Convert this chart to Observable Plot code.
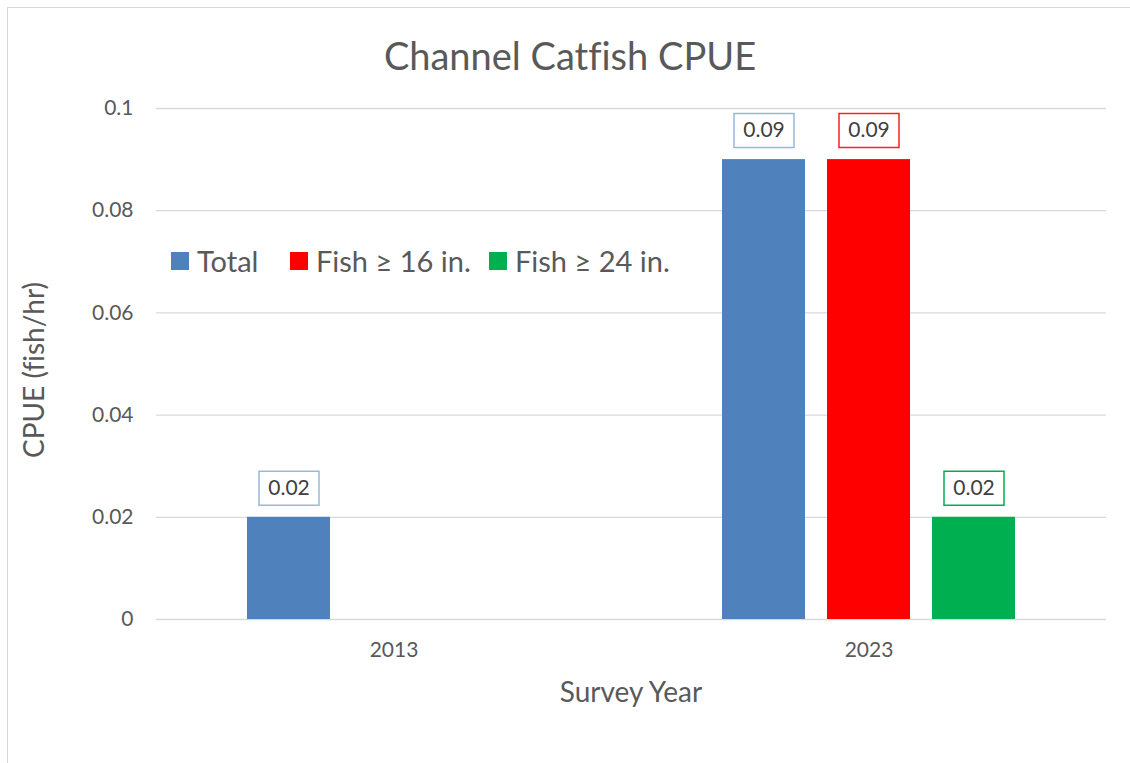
<!DOCTYPE html>
<html>
<head>
<meta charset="utf-8">
<script src="https://cdn.jsdelivr.net/npm/d3@7"></script>
<script src="https://cdn.jsdelivr.net/npm/@observablehq/plot@0.6"></script>
<style>
  html, body { margin: 0; padding: 0; background: #fff; }
  #wrap { position: relative; width: 1130px; height: 763px; overflow: hidden; font-family: Lato, "Open Sans", sans-serif; color: #595959; font-variant-ligatures: none; font-feature-settings: "liga" 0; }
  #border { position: absolute; left: 7px; top: 7px; width: 1200px; height: 900px; border-left: 1.5px solid #D9D9D9; border-top: 1.5px solid #D9D9D9; }
  #title { position: absolute; left: 0; width: 1140px; top: 32px; text-align: center; font-size: 38px; line-height: 46px; }
  #ylabel { position: absolute; left: 33px; top: 370px; transform: translate(-50%, -50%) rotate(-90deg); font-size: 28px; white-space: nowrap; }
  #xlabel { position: absolute; left: 631px; top: 691px; transform: translate(-50%, -50%); font-size: 28px; white-space: nowrap; }
  #legend { position: absolute; left: 171px; top: 243px; display: flex; align-items: center; font-size: 29px; line-height: 36px; }
  .item { display: flex; align-items: center; }
  .sw { width: 18px; height: 18px; margin-right: 8px; }
  #chart { position: absolute; left: 0; top: 0; }
</style>
</head>
<body>
<div id="wrap">
  <div id="border"></div>
  <div id="chart"></div>
  <div id="title"></div>
  <div id="ylabel"></div>
  <div id="xlabel"></div>
  <div id="legend"></div>
</div>
<script>
// ---- data ----
const years = ["2013", "2023"];
const seriesNames = ["Total", "Fish ≥ 16 in.", "Fish ≥ 24 in."];
const totalValues = [0.02, 0.09];
const fish16Values = [null, 0.09];
const fish24Values = [null, 0.02];
const yTicks = [0, 0.02, 0.04, 0.06, 0.08, 0.1];
const titleText = "Channel Catfish CPUE";
const yLabelText = "CPUE (fish/hr)";
const xLabelText = "Survey Year";

// ---- styles ----
const barColors = ["#4F81BD", "#FF0000", "#00B050"];
const boxStrokes = ["#9BB7DA", "#FF2020", "#00B050"];
const seriesOffsets = [-105, 0, 105];
const legendItemWidths = [119, 199, 200];

const seriesValues = [totalValues, fish16Values, fish24Values];
const rows = [];
seriesNames.forEach((s, i) => {
  years.forEach((y, j) => {
    const v = seriesValues[i][j];
    if (v != null) rows.push({series: s, si: i, year: y, value: v});
  });
});

const boxSymbol = {
  draw(ctx) {
    const w = 30, h = 17;
    ctx.moveTo(-w, -h); ctx.lineTo(w, -h); ctx.lineTo(w, h); ctx.lineTo(-w, h); ctx.closePath();
  }
};

const marks = [Plot.ruleY(yTicks, {stroke: "#D9D9D9", strokeWidth: 1.3})];
seriesNames.forEach((s, i) => {
  const d = rows.filter(r => r.si === i);
  marks.push(Plot.barY(d, {x: "year", y: "value", fill: barColors[i], dx: seriesOffsets[i], insetLeft: 196, insetRight: 196}));
});
seriesNames.forEach((s, i) => {
  const d = rows.filter(r => r.si === i);
  marks.push(Plot.dot(d, {x: "year", y: "value", symbol: boxSymbol, r: 10, fill: "white", stroke: boxStrokes[i], strokeWidth: 1.5, dx: seriesOffsets[i], dy: -29}));
  marks.push(Plot.text(d, {x: "year", y: "value", text: r => String(r.value), fill: "#404040", fontSize: 21, dx: seriesOffsets[i], dy: -29}));
});

const chart = Plot.plot({
  width: 1130,
  height: 763,
  marginLeft: 156,
  marginRight: 24,
  marginTop: 108,
  marginBottom: 144,
  style: {fontFamily: "Lato, 'Open Sans', sans-serif", fontSize: "21px", color: "#595959", background: "transparent"},
  x: {domain: years, padding: 0, label: null, tickSize: 0, tickPadding: 23},
  y: {domain: [0, 0.1], ticks: yTicks, tickFormat: d => String(d), label: null, tickSize: 0, tickPadding: 23},
  marks
});
document.getElementById("chart").appendChild(chart);

document.getElementById("title").textContent = titleText;
document.getElementById("ylabel").textContent = yLabelText;
document.getElementById("xlabel").textContent = xLabelText;
const legend = document.getElementById("legend");
seriesNames.forEach((s, i) => {
  const it = document.createElement("div");
  it.className = "item";
  it.style.width = legendItemWidths[i] + "px";
  const sw = document.createElement("div");
  sw.className = "sw";
  sw.style.background = barColors[i];
  const t = document.createElement("span");
  t.textContent = s;
  it.appendChild(sw); it.appendChild(t);
  legend.appendChild(it);
});
</script>
</body>
</html>
